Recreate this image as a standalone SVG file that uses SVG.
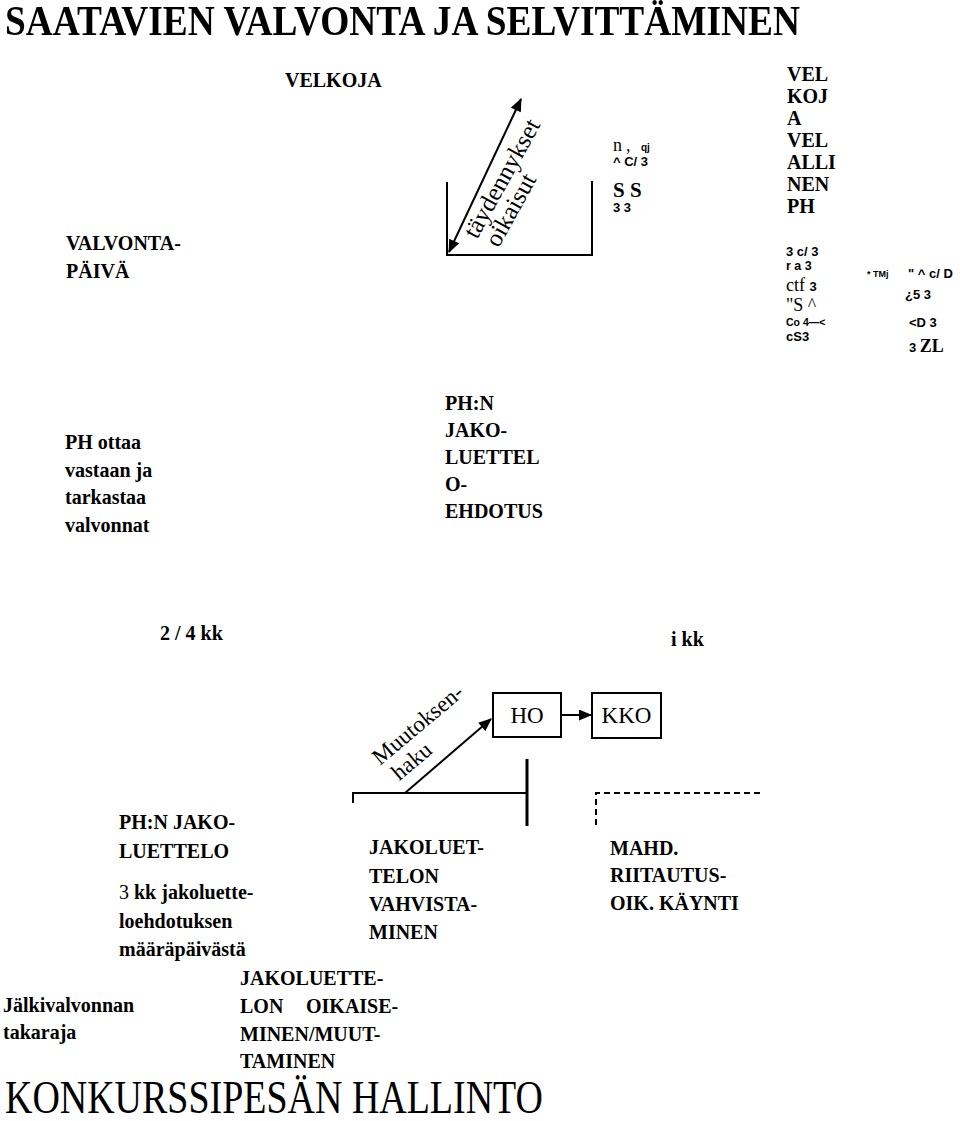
<svg xmlns="http://www.w3.org/2000/svg" width="960" height="1121" viewBox="0 0 960 1121">
<style>
.r{font-family:"Liberation Serif","Times New Roman",serif;font-size:23px;fill:#000}
.s{font-family:"Liberation Sans",Arial,sans-serif;font-weight:bold;font-size:13px;fill:#000}
.sr{font-family:"Liberation Serif","Times New Roman",serif;font-size:18px;fill:#000}
.ln{stroke:#000;stroke-width:2;fill:none}
</style>
<defs>
<marker id="ah" viewBox="0 0 12 10" refX="11" refY="5" markerWidth="14" markerHeight="11" markerUnits="userSpaceOnUse" orient="auto-start-reverse">
<path d="M0,0 L12,5 L0,10 Z" fill="#000"/>
</marker>
<filter id="fbt" x="-2%" y="-10%" width="104%" height="120%"><feMorphology operator="dilate" radius="0.3 0.1"/></filter>
</defs>
<rect width="960" height="1121" fill="#fff"/>

<g id="title" filter="url(#fbt)">
<text x="5" y="35" font-family="Liberation Serif" font-weight="bold" font-size="42" textLength="795" lengthAdjust="spacingAndGlyphs">SAATAVIEN VALVONTA JA SELVITTÄMINEN</text>
</g>

<g id="connectors">
<path class="ln" d="M447,182 V255 H592 V181"/>
<path class="ln" d="M449,252 L521,99" marker-start="url(#ah)" marker-end="url(#ah)"/>
<path class="ln" d="M353,803 V793 H527"/>
<path class="ln" style="stroke-width:3px" d="M527,759 V826"/>
<path class="ln" stroke-dasharray="6,4" d="M596,825 V793 H763"/>
<path class="ln" d="M405,793 L491,719" marker-end="url(#ah)"/>
<path class="ln" d="M561,715 H591" marker-end="url(#ah)"/>
</g>

<g id="velkoja"><text x="285" y="87" font-family="Liberation Serif" font-weight="bold" font-size="20">VELKOJA</text></g>
<g id="valvontapaiva"><text x="66" y="250" font-family="Liberation Serif" font-weight="bold" font-size="20">VALVONTA-<tspan x="66" y="278">PÄIVÄ</tspan></text></g>

<g id="taydennykset">
<text class="r" style="font-size:25px" transform="translate(477,240) rotate(-61)">täydennykset<tspan x="3" y="23">oikaisut</tspan></text>
</g>

<g id="garble1">
<text class="sr" x="613" y="151">n</text>
<text class="sr" x="626" y="151">,</text>
<text class="s" x="641" y="151" style="font-size:10px">qj</text>
<text class="s" x="613" y="166">^ C/ 3</text>
<text x="613" y="197" font-family="Liberation Serif" font-weight="bold" font-size="21">S S</text>
<text class="s" x="613" y="212">3 3</text>
</g>

<g id="velkoja-vs-ph">
<text x="787" y="81" font-family="Liberation Serif" font-weight="bold" font-size="20">VEL<tspan x="787" y="103">KOJ</tspan><tspan x="787" y="125">A</tspan><tspan x="787" y="147">VEL</tspan><tspan x="787" y="169">ALLI</tspan><tspan x="787" y="191">NEN</tspan><tspan x="787" y="213">PH</tspan></text>
</g>

<g id="garble2">
<text class="s" x="786" y="256">3 c/ 3</text>
<text class="s" x="786" y="270" style="font-size:12.5px">r a 3</text>
<text class="sr" x="786" y="291">ctf <tspan class="s">3</tspan></text>
<text class="sr" x="786" y="311">"S ^</text>
<text class="s" x="786" y="326" style="font-size:10.5px">Co 4—&lt;</text>
<text class="s" x="786" y="341">cS3</text>
<text class="s" x="867" y="277" style="font-size:9px">* TMj</text>
<text class="s" x="908" y="278">" ^  c/ D</text>
<text class="s" x="905" y="299">¿5 3</text>
<text class="s" x="909" y="327">&lt;D 3</text>
<text class="s" x="909" y="352">3 <tspan class="sr">ZL</tspan></text>
</g>

<g id="ph-ottaa">
<text x="65" y="449" font-family="Liberation Serif" font-weight="bold" font-size="20">PH ottaa<tspan x="65" y="476.5">vastaan ja</tspan><tspan x="65" y="504">tarkastaa</tspan><tspan x="65" y="531.5">valvonnat</tspan></text>
</g>

<g id="ph-ehdotus">
<text x="445" y="410" font-family="Liberation Serif" font-weight="bold" font-size="20">PH:N<tspan x="445" y="437">JAKO-</tspan><tspan x="445" y="464">LUETTEL</tspan><tspan x="445" y="491">O-</tspan><tspan x="445" y="518">EHDOTUS</tspan></text>
</g>

<g id="kk24"><text x="160" y="640" font-family="Liberation Serif" font-weight="bold" font-size="20">2 / 4 kk</text></g>
<g id="ikk"><text x="671" y="646" font-family="Liberation Serif" font-weight="bold" font-size="20">i kk</text></g>

<g id="muutoksenhaku">
<text class="r" transform="translate(380,766) rotate(-40)">Muutoksen-<tspan x="5" y="24">haku</tspan></text>
</g>

<g id="ho">
<rect class="ln" x="493" y="693" width="68" height="44"/>
<text class="r" x="527" y="723" text-anchor="middle">HO</text>
</g>
<g id="kko">
<rect class="ln" x="592" y="693" width="69" height="45"/>
<text class="r" x="626.5" y="723" text-anchor="middle">KKO</text>
</g>

<g id="ph-jakoluettelo">
<text x="119" y="829" font-family="Liberation Serif" font-weight="bold" font-size="20">PH:N JAKO-<tspan x="119" y="858">LUETTELO</tspan></text>
<text x="119" y="899" font-family="Liberation Serif" font-weight="bold" font-size="20"><tspan font-weight="normal">3</tspan> kk jakoluette-<tspan x="119" y="928">loehdotuksen</tspan><tspan x="119" y="956">määräpäivästä</tspan></text>
</g>

<g id="vahvistaminen">
<text x="369" y="854" font-family="Liberation Serif" font-weight="bold" font-size="20">JAKOLUET-<tspan x="369" y="882.5">TELON</tspan><tspan x="369" y="911">VAHVISTA-</tspan><tspan x="369" y="938.5">MINEN</tspan></text>
</g>

<g id="riitautus">
<text x="610" y="855" font-family="Liberation Serif" font-weight="bold" font-size="20">MAHD.<tspan x="610" y="882">RIITAUTUS-</tspan><tspan x="610" y="910">OIK. KÄYNTI</tspan></text>
</g>

<g id="oikaiseminen">
<text x="240" y="985" font-family="Liberation Serif" font-weight="bold" font-size="20">JAKOLUETTE-<tspan x="240" y="1012.5">LON</tspan><tspan x="306" y="1012.5">OIKAISE-</tspan><tspan x="240" y="1040.5">MINEN/MUUT-</tspan><tspan x="240" y="1068">TAMINEN</tspan></text>
</g>

<g id="jalkivalvonta">
<text x="3" y="1011.5" font-family="Liberation Serif" font-weight="bold" font-size="20">Jälkivalvonnan<tspan x="3" y="1039">takaraja</tspan></text>
</g>

<g id="footer">
<text class="r" x="5" y="1113" style="font-size:46px" textLength="538" lengthAdjust="spacingAndGlyphs">KONKURSSIPESÄN HALLINTO</text>
</g>
</svg>
